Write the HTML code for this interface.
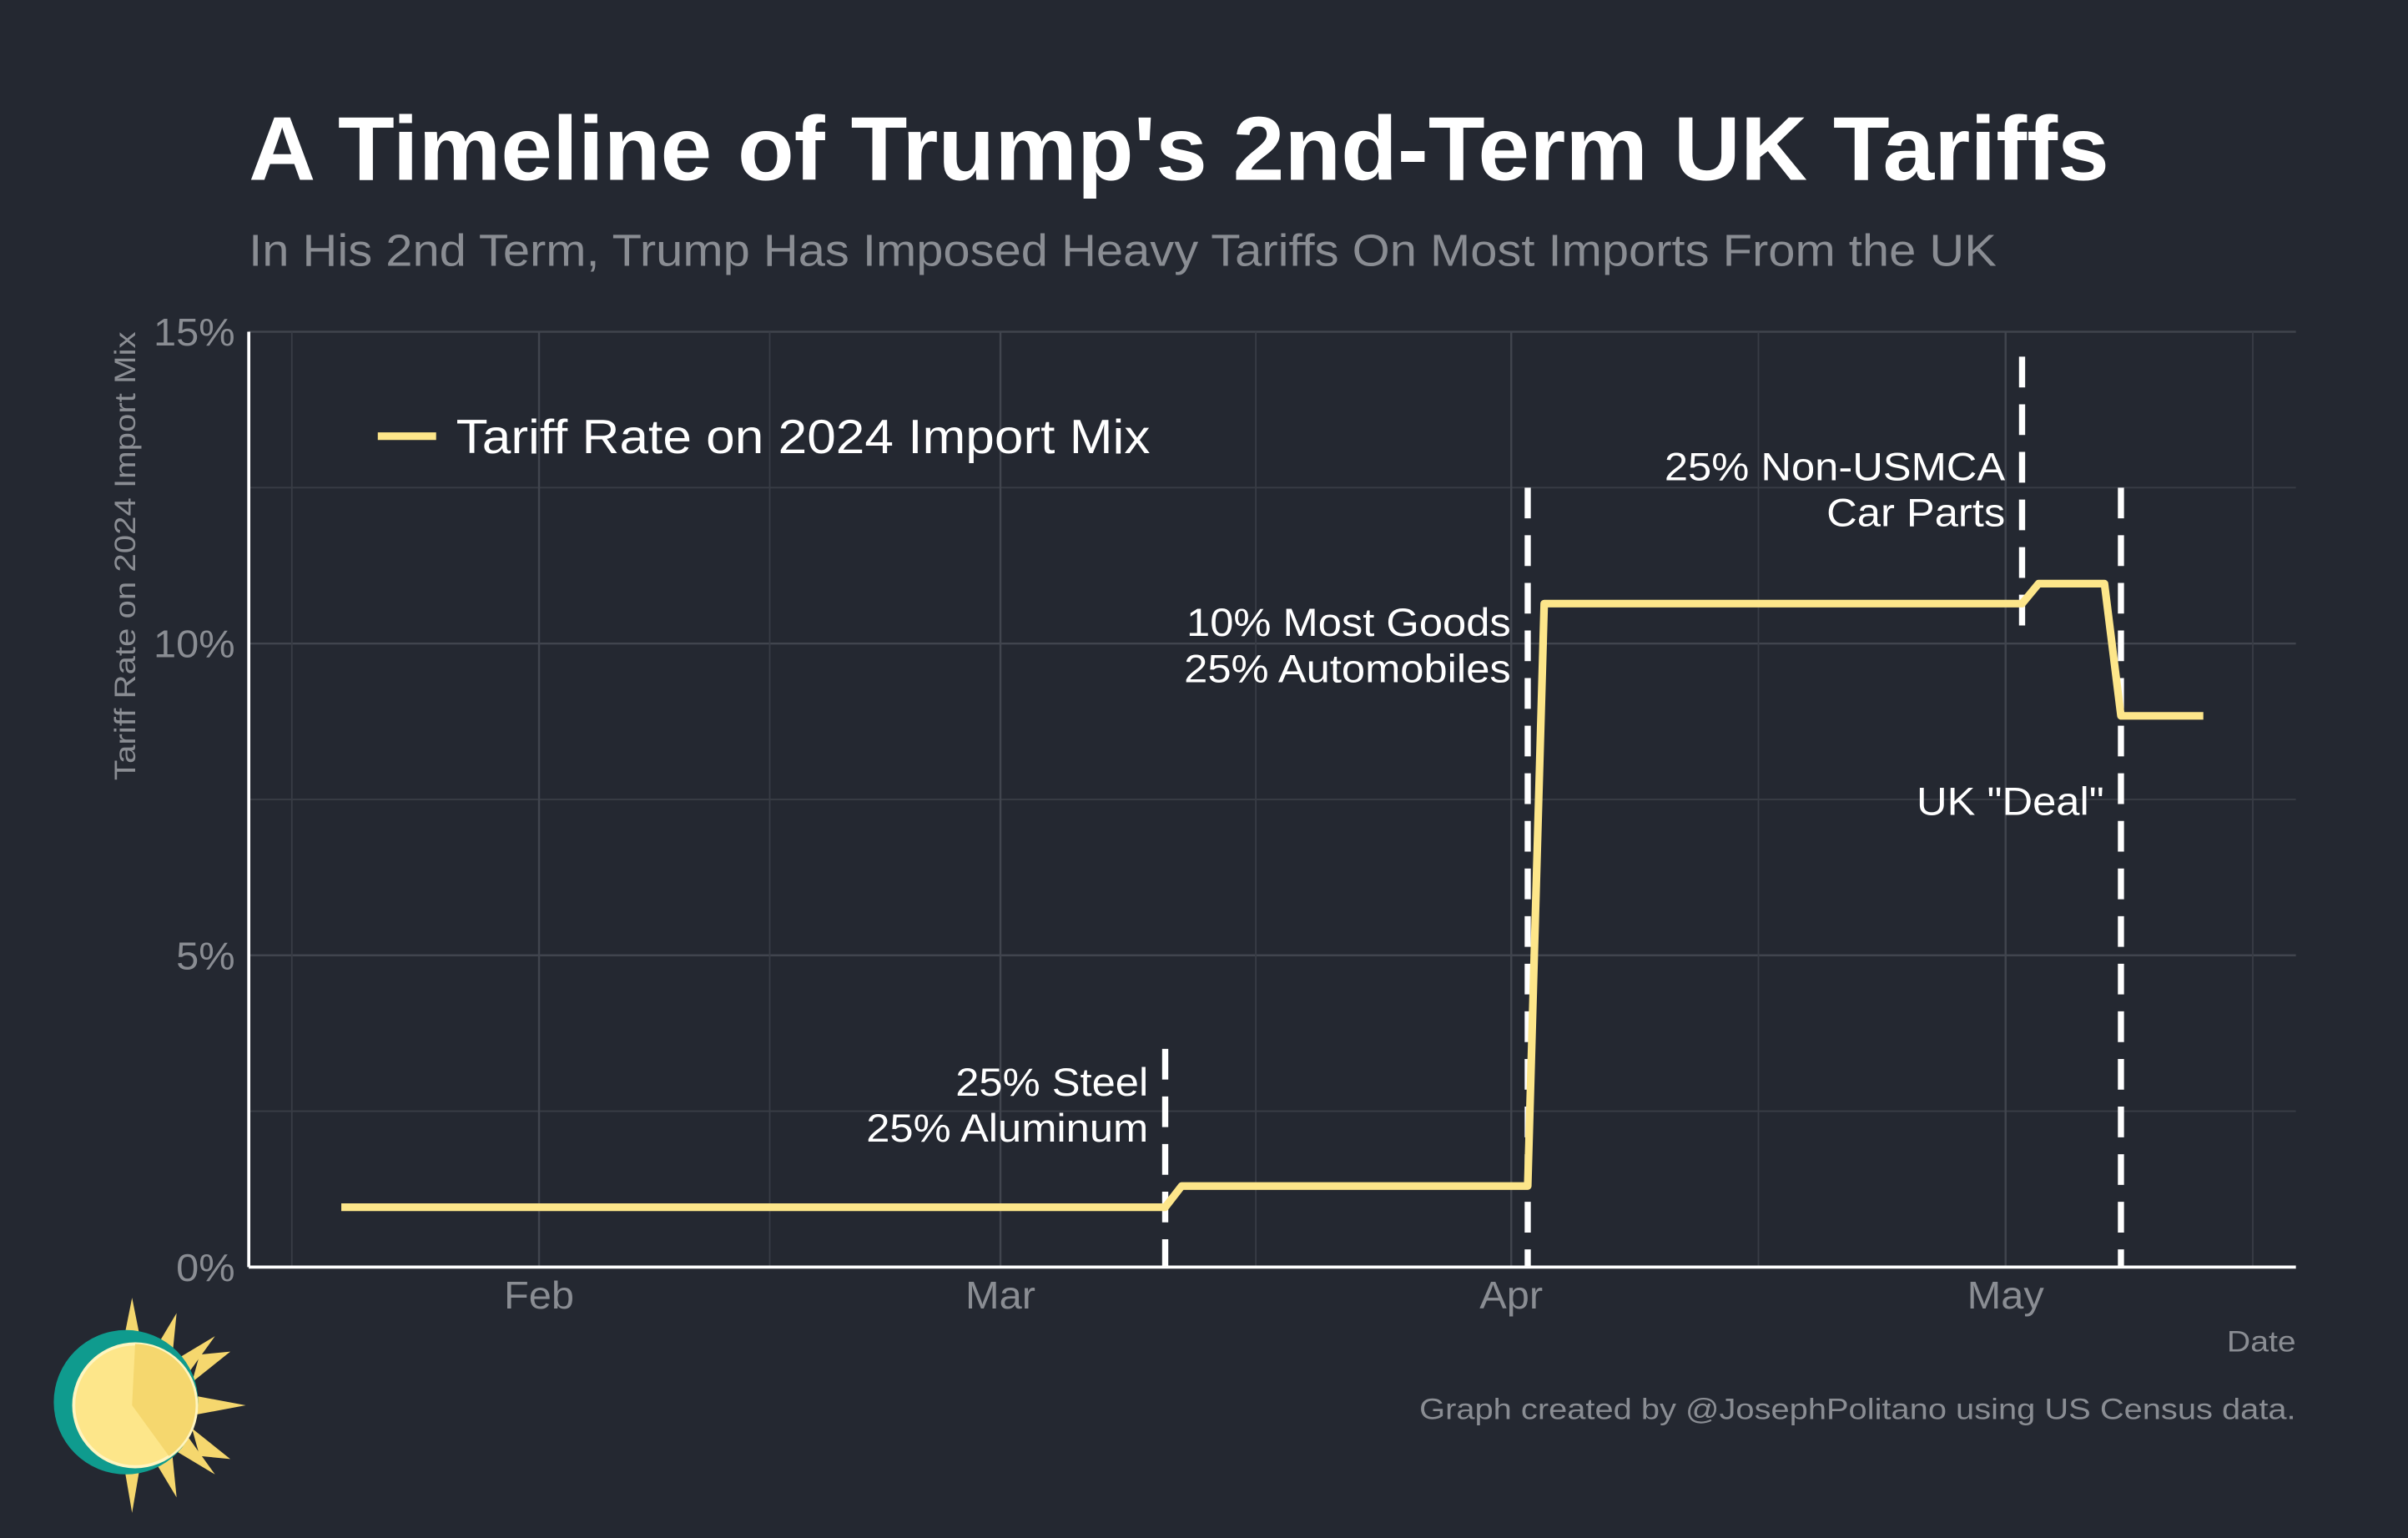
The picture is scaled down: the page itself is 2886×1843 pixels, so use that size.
<!DOCTYPE html>
<html><head><meta charset="utf-8"><style>
html,body{margin:0;padding:0;background:#242831;}
svg{display:block;font-family:"Liberation Sans",Arial,sans-serif;}
</style></head><body>
<svg id="chart" width="2886" height="1843" viewBox="0 0 1568 1001.4" preserveAspectRatio="none" xmlns="http://www.w3.org/2000/svg">
<rect x="0" y="0" width="1568" height="1001.4" fill="#242831"/>
<text x="162" y="117" font-size="59" font-weight="bold" fill="#ffffff" data-stretch="1.022">A Timeline of Trump's 2nd-Term UK Tariffs</text>
<text x="162" y="173" font-size="29" fill="#8a8d93" data-stretch="1.085">In His 2nd Term, Trump Has Imposed Heavy Tariffs On Most Imports From the UK</text>
<g id="grid"></g>
<g id="annots"></g>
<g id="series"></g>
<line x1="162" y1="216" x2="162" y2="825" stroke="#ffffff" stroke-width="2"/>
<line x1="162" y1="825" x2="1495" y2="825" stroke="#ffffff" stroke-width="2"/>
<g id="ticks"></g>
<text transform="translate(88,362) rotate(-90)" text-anchor="middle" font-size="19" fill="#8a8d93" data-stretch="1.15">Tariff Rate on 2024 Import Mix</text>
<text x="1495" y="880" text-anchor="end" font-size="19" fill="#8a8d93" data-stretch="1.12">Date</text>
<text x="1495" y="924" text-anchor="end" font-size="19" fill="#8a8d93" data-stretch="1.14">Graph created by @JosephPolitano using US Census data.</text>
<line x1="246" y1="284" x2="284" y2="284" stroke="#fde68a" stroke-width="5"/>
<text x="297" y="295" font-size="31" fill="#ffffff" data-stretch="1.09">Tariff Rate on 2024 Import Mix</text>
<g>
<g fill="#f5d76e">
<polygon points="86,845 92,875 80,875"/><polygon points="86,985 92,950 80,950"/>
<polygon points="160,915 128,921 128,909"/>
<polygon points="115,855 112,885 100,880"/><polygon points="140,870 122,895 115,885"/>
<polygon points="140,960 122,935 115,945"/><polygon points="115,975 112,945 100,950"/>
<polygon points="130,882 150,880 125,900"/><polygon points="130,948 150,950 125,930"/>
</g>
<circle cx="82" cy="913" r="47" fill="#0f9b8e"/>
<circle cx="88" cy="915" r="40" fill="#fde68a" stroke="#fff5c0" stroke-width="2"/>
<path d="M88,875 A40,40 0 0,1 110,948 L86,915 Z" fill="#f5d76e"/>
</g>
<script>
const yTicks=[0,5,10,15];
const yTickLabels=["0%","5%","10%","15%"];
const yMinor=[2.5,7.5,12.5];
const xTickDays=[31,59,90,120];
const xTickLabels=["Feb","Mar","Apr","May"];
const xMinorDays=[16,45,74.5,105,135];
const days=[19,69,70,91,92,121,122,126,127,132];
const rates=[0.96,0.96,1.3,1.3,10.64,10.64,10.96,10.96,8.84,8.84];
const eventDays=[69,91,121,127];
const eventTop=[3.5,12.5,14.6,12.5];
const eventBottom=[0,0,10.1,0];
const labelLines=[["25% Steel","25% Aluminum"],["10% Most Goods","25% Automobiles"],["25% Non-USMCA","Car Parts"],["UK \"Deal\""]];
const labelRates=[2.75,10.12,12.62,7.25];

const NS="http://www.w3.org/2000/svg";
const X=d=>351+(d-31)*10.73;
const Y=v=>825-v*40.6;
function mk(tag,attrs,parent){const e=document.createElementNS(NS,tag);for(const k in attrs)e.setAttribute(k,attrs[k]);parent.appendChild(e);return e;}
const grid=document.getElementById('grid'),ticks=document.getElementById('ticks'),series=document.getElementById('series'),ann=document.getElementById('annots');
yMinor.forEach(v=>{const l=mk('line',{x1:162,x2:1495,y1:Y(v),y2:Y(v),stroke:'#383c45','stroke-width':1},grid);

});
yTicks.forEach((v,i)=>{const l=mk('line',{x1:162,x2:1495,y1:Y(v),y2:Y(v),stroke:'#41454e','stroke-width':1.3},grid);


const t=mk('text',{x:153,y:Y(v)+9,'text-anchor':'end','font-size':25,fill:'#8a8d93','data-stretch':1.06},ticks);t.textContent=yTickLabels[i];

});
xMinorDays.forEach(d=>{const l=mk('line',{x1:X(d),x2:X(d),y1:216,y2:825,stroke:'#383c45','stroke-width':1},grid);

});
xTickDays.forEach((d,i)=>{const l=mk('line',{x1:X(d),x2:X(d),y1:216,y2:825,stroke:'#41454e','stroke-width':1.3},grid);


const t=mk('text',{x:X(d),y:852,'text-anchor':'middle','font-size':25,fill:'#8a8d93','data-stretch':1.06},ticks);t.textContent=xTickLabels[i];

});
eventDays.forEach((d,i)=>{const l=mk('line',{x1:X(d),x2:X(d),y1:Y(eventTop[i]),y2:Y(eventBottom[i]),stroke:'#ffffff','stroke-width':4,'stroke-dasharray':'20,11'},ann);

});
labelLines.forEach((lines,i)=>{lines.forEach((s,j)=>{const t=mk('text',{x:X(eventDays[i])-11,y:Y(labelRates[i])+j*30,'text-anchor':'end','font-size':25.5,fill:'#ffffff','data-stretch':1.08},ann);t.textContent=s;

});});
const p=mk('polyline',{points:days.map((d,i)=>X(d)+','+Y(rates[i])).join(' '),fill:'none',stroke:'#fde68a','stroke-width':5,'stroke-linejoin':'round'},series);


document.querySelectorAll('text[data-stretch]').forEach(t=>{const f=parseFloat(t.getAttribute('data-stretch'));const w=t.getComputedTextLength();t.setAttribute('textLength',w*f);t.setAttribute('lengthAdjust','spacingAndGlyphs');});
</script>
</svg>
</body></html>
